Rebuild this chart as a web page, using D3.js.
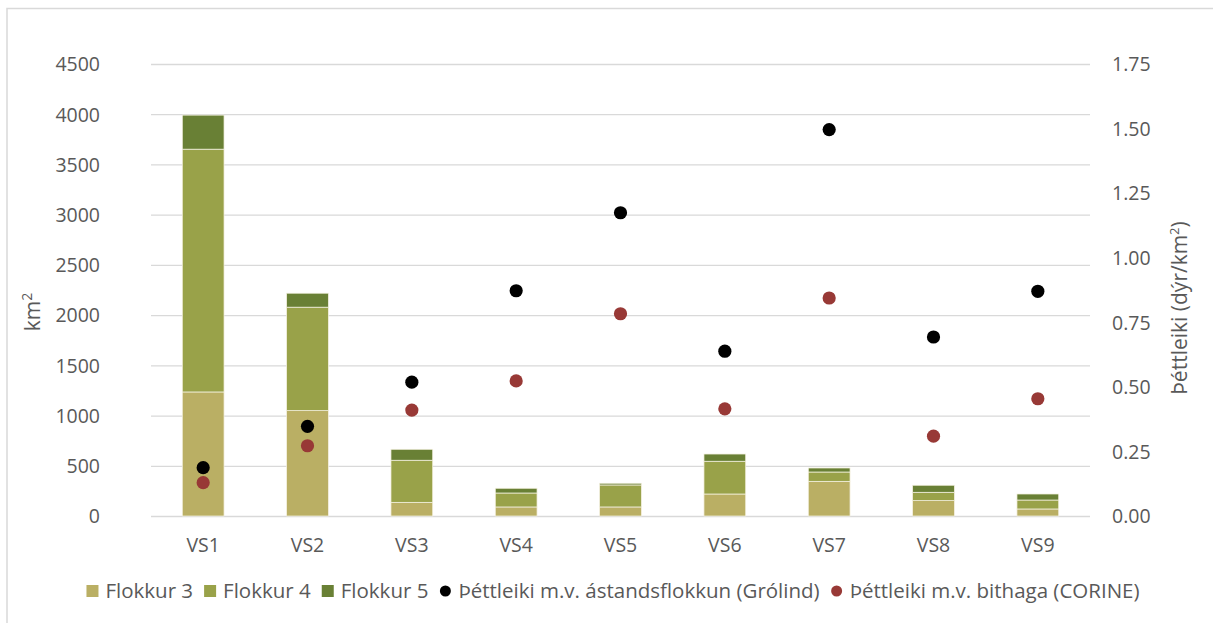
<!DOCTYPE html>
<html>
<head>
<meta charset="utf-8">
<script src="https://cdn.jsdelivr.net/npm/d3@7"></script>
<style>
  html, body { margin: 0; padding: 0; background: #fff; }
  svg text { font-family: "Open Sans", "Noto Sans", sans-serif; fill: #595959; }
</style>
</head>
<body>
<svg id="chart" width="1213" height="623"></svg>
<script>
// Svæði (km²) eftir ástandsflokkum og þéttleiki á hverju svæði
const categories = ["VS1", "VS2", "VS3", "VS4", "VS5", "VS6", "VS7", "VS8", "VS9"];
const flokkur3 = [1235, 1049, 136, 90, 90, 219, 345, 153, 70];
const flokkur4 = [2417, 1030, 419, 139, 219, 326, 93, 83, 89];
const flokkur5 = [339, 139, 109, 47, 17, 72, 40, 70, 60];
const thettleikiGrolind = [0.187, 0.347, 0.518, 0.872, 1.174, 0.638, 1.496, 0.693, 0.870];
const thettleikiCorine = [0.129, 0.272, 0.410, 0.523, 0.783, 0.415, 0.844, 0.309, 0.454];
const leftTicks = [0, 500, 1000, 1500, 2000, 2500, 3000, 3500, 4000, 4500];
const rightTicks = [0, 0.25, 0.5, 0.75, 1.0, 1.25, 1.5, 1.75];

const barKeys = ["Flokkur 3", "Flokkur 4", "Flokkur 5"];
const barColors = { "Flokkur 3": "#BAAF64", "Flokkur 4": "#99A249", "Flokkur 5": "#698035" };
const dotSeries = [
  { name: "Þéttleiki m.v. ástandsflokkun (Grólind)", values: thettleikiGrolind, color: "#000000" },
  { name: "Þéttleiki m.v. bithaga (CORINE)", values: thettleikiCorine, color: "#983936" }
];

const rows = categories.map((c, i) => ({
  cat: c,
  "Flokkur 3": flokkur3[i],
  "Flokkur 4": flokkur4[i],
  "Flokkur 5": flokkur5[i]
}));

const svg = d3.select("#chart");
const plot = { left: 151, right: 1090, top: 64, bottom: 516 };

// chart frame
svg.append("rect")
  .attr("x", 7).attr("y", 8.5)
  .attr("width", 1300).attr("height", 700)
  .attr("fill", "none").attr("stroke", "#d9d9d9").attr("stroke-width", 1.5);

const x = d3.scaleBand().domain(categories)
  .range([plot.left, plot.right]).paddingInner(0.6).paddingOuter(0.3);
const yL = d3.scaleLinear().domain([0, 4500]).range([plot.bottom, plot.top]);
const yR = d3.scaleLinear().domain([0, 1.75]).range([plot.bottom, plot.top]);

// gridlines
svg.append("g").selectAll("line").data(leftTicks).join("line")
  .attr("x1", plot.left).attr("x2", plot.right)
  .attr("y1", d => yL(d) + 0.5).attr("y2", d => yL(d) + 0.5)
  .attr("stroke", "#d9d9d9").attr("stroke-width", 1.3);

// left axis
const axL = svg.append("g").attr("transform", `translate(${plot.left - 51},0)`)
  .call(d3.axisLeft(yL).tickValues(leftTicks).tickSize(0).tickPadding(0).tickFormat(d3.format("d")));
axL.select(".domain").remove();
axL.selectAll("text").attr("font-size", 19.5).attr("dy", "0.35em");

// right axis
const axR = svg.append("g").attr("transform", `translate(${plot.right + 22},0)`)
  .call(d3.axisRight(yR).tickValues(rightTicks).tickSize(0).tickPadding(0).tickFormat(d3.format(".2f")));
axR.select(".domain").remove();
axR.selectAll("text").attr("font-size", 19.5).attr("dy", "0.35em");

// category axis labels
const axB = svg.append("g").attr("transform", `translate(0,${plot.bottom})`)
  .call(d3.axisBottom(x).tickSize(0).tickPadding(22));
axB.select(".domain").remove();
axB.selectAll("text").attr("font-size", 19.5);

// stacked bars
const stacked = d3.stack().keys(barKeys)(rows);
svg.append("g").selectAll("g").data(stacked).join("g")
  .attr("fill", d => barColors[d.key])
  .selectAll("rect").data(d => d).join("rect")
  .attr("x", d => x(d.data.cat))
  .attr("width", x.bandwidth())
  .attr("y", d => yL(d[1]))
  .attr("height", d => yL(d[0]) - yL(d[1]))
  .attr("stroke", "#f4f1e0").attr("stroke-width", 0.75);

// density dots
dotSeries.forEach(s => {
  svg.append("g").selectAll("circle").data(s.values).join("circle")
    .attr("cx", (d, i) => x(categories[i]) + x.bandwidth() / 2)
    .attr("cy", d => yR(d))
    .attr("r", 6.6)
    .attr("fill", s.color);
});

// axis titles
const midY = (plot.top + plot.bottom) / 2;
const tl = svg.append("text")
  .attr("transform", `translate(40,${midY + 22}) rotate(-90)`)
  .attr("text-anchor", "middle").attr("font-size", 21);
tl.append("tspan").text("km");
tl.append("tspan").attr("font-size", 14).attr("dy", -8).text("2");

const tr = svg.append("text")
  .attr("transform", `translate(1187,${midY + 18}) rotate(-90)`)
  .attr("text-anchor", "middle").attr("font-size", 21);
tr.append("tspan").text("Þéttleiki (dýr/km");
tr.append("tspan").attr("font-size", 13).attr("dy", -8).text("2");
tr.append("tspan").attr("dy", 8).text(")");

// legend
const legendItems = barKeys.map(k => ({ name: k, color: barColors[k], shape: "square" }))
  .concat(dotSeries.map(s => ({ name: s.name, color: s.color, shape: "circle" })));
const lg = svg.append("g");
const legendY = 591;
let cursor = 0;
legendItems.forEach(it => {
  const g = lg.append("g");
  if (it.shape === "square") {
    g.append("rect").attr("x", cursor).attr("y", legendY - 6).attr("width", 12).attr("height", 12).attr("fill", it.color);
  } else {
    g.append("circle").attr("cx", cursor + 6).attr("cy", legendY).attr("r", 5.5).attr("fill", it.color);
  }
  const t = g.append("text").attr("x", cursor + 19).attr("y", legendY).attr("dy", "0.35em")
    .attr("font-size", 20.5).text(it.name);
  const w = t.node().getComputedTextLength();
  cursor += 19 + w + 11;
});
const total = cursor - 11;
lg.attr("transform", `translate(${613 - total / 2},0)`);
</script>
</body>
</html>
